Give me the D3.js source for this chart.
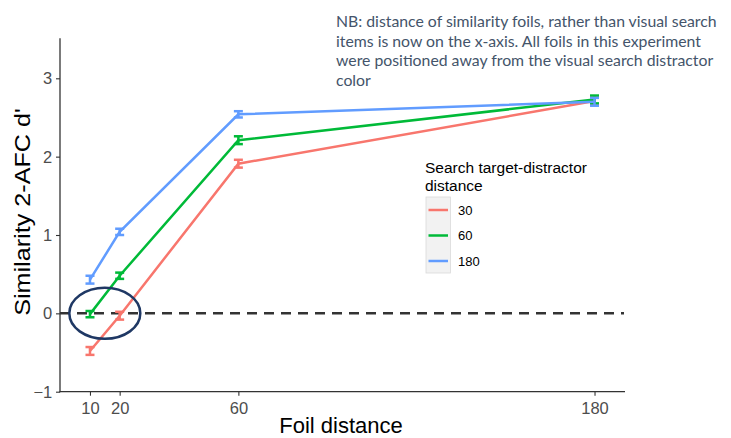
<!DOCTYPE html>
<html><head><meta charset="utf-8">
<script src="https://cdn.jsdelivr.net/npm/d3@7"></script>
<style>body{margin:0;background:#fff}svg{display:block}</style>
</head><body>
<script>
const foilDistances = [10, 20, 60, 180];
const seriesNames = ["30", "60", "180"];
const seriesColors = ["#F8766D", "#00BA38", "#619CFF"];
const values30 = [-0.48, -0.03, 1.91, 2.71];
const values60 = [-0.01, 0.48, 2.21, 2.73];
const values180 = [0.43, 1.04, 2.54, 2.70];
const errors30 = [0.05, 0.05, 0.05, 0.05];
const errors60 = [0.04, 0.04, 0.05, 0.05];
const errors180 = [0.05, 0.04, 0.04, 0.05];
const yTicks = [-1, 0, 1, 2, 3];
const xTicks = [10, 20, 60, 180];
const noteLines = ["NB: distance of similarity foils, rather than visual search",
  "items is now on the x-axis. All foils in this experiment",
  "were positioned away from the visual search distractor",
  "color"];

const W = 731, H = 438;
const svg = d3.select("body").append("svg").attr("width", W).attr("height", H);
const x = d3.scaleLinear().domain([0, 190]).range([60.3, 624.2]);
const y = d3.scaleLinear().domain([-1, 3]).range([391.7, 78.3]);
const yTop = y(3.51);
const FONT = "Liberation Sans, Arial, sans-serif";

// zero dashed line
svg.append("line").attr("x1", 60).attr("x2", 624).attr("y1", y(0)).attr("y2", y(0))
  .attr("stroke", "#333").attr("stroke-width", 2.5).attr("stroke-dasharray", "10,7");

// axes
const xAxis = svg.append("g").attr("transform", `translate(0,${y(-1)})`)
  .call(d3.axisBottom(x).tickValues(xTicks).tickSize(4).tickSizeOuter(0));
const yAxis = svg.append("g").attr("transform", `translate(60,0)`)
  .call(d3.axisLeft(y).tickValues(yTicks).tickSize(4).tickSizeOuter(0).tickFormat(d3.format("d")));
[xAxis, yAxis].forEach(g => {
  g.select(".domain").remove();
  g.selectAll(".tick line").attr("stroke", "#333").attr("stroke-width", 1.1);
  g.selectAll(".tick text").attr("fill", "#4D4D4D").attr("font-family", FONT).attr("font-size", 16.5);
});
xAxis.selectAll(".tick text").attr("dy", "0.95em");
yAxis.selectAll(".tick text").attr("dx", "-0.05em").attr("dy", "0.34em");
svg.append("line").attr("x1", 60).attr("x2", 60).attr("y1", yTop).attr("y2", y(-1) + 0.5).attr("stroke", "#333").attr("stroke-width", 1.3);
svg.append("line").attr("x1", 59.5).attr("x2", 625).attr("y1", y(-1)).attr("y2", y(-1)).attr("stroke", "#333").attr("stroke-width", 1.3);

// series
const allValues = [values30, values60, values180];
const allErrors = [errors30, errors60, errors180];
const line = d3.line().x(d => x(d.fd)).y(d => y(d.v));
allValues.forEach((vals, i) => {
  const data = foilDistances.map((fd, j) => ({fd, v: vals[j], e: allErrors[i][j]}));
  const g = svg.append("g");
  data.forEach(d => {
    const cx = x(d.fd), y1 = y(d.v + d.e), y2 = y(d.v - d.e);
    g.append("line").attr("x1", cx).attr("x2", cx).attr("y1", y1).attr("y2", y2)
      .attr("stroke", seriesColors[i]).attr("stroke-width", 2.5);
    [y1, y2].forEach(yy => g.append("line").attr("x1", cx - 4.5).attr("x2", cx + 4.5).attr("y1", yy).attr("y2", yy)
      .attr("stroke", seriesColors[i]).attr("stroke-width", 2.5));
  });
  g.append("path").datum(data).attr("d", line).attr("fill", "none")
    .attr("stroke", seriesColors[i]).attr("stroke-width", 2.5);
});

// ellipse annotation
svg.append("ellipse").attr("cx", x(15)).attr("cy", y(0)).attr("rx", 35.5).attr("ry", 25.5)
  .attr("fill", "none").attr("stroke", "#1F3864").attr("stroke-width", 2.5);

// axis titles
svg.append("text").attr("x", 341).attr("y", 433).attr("text-anchor", "middle")
  .attr("font-family", FONT).attr("font-size", 22).attr("fill", "#000").text("Foil distance");
svg.append("text").attr("transform", `translate(29.5,212) rotate(-90) scale(1.12,1)`).attr("text-anchor", "middle")
  .attr("font-family", FONT).attr("font-size", 22.5).attr("fill", "#000").text("Similarity 2-AFC d'");

// legend
const lg = svg.append("g").attr("font-family", FONT);
lg.append("text").attr("x", 425).attr("y", 173).attr("font-size", 15.5).attr("fill", "#000").text("Search target-distractor");
lg.append("text").attr("x", 425).attr("y", 191).attr("font-size", 15.5).attr("fill", "#000").text("distance");
lg.append("rect").attr("x", 426).attr("y", 197).attr("width", 24.5).attr("height", 76)
  .attr("fill", "#F2F2F2").attr("stroke", "#DADADA").attr("stroke-width", 0.8);
seriesNames.forEach((s, i) => {
  const ly = 210 + i * 25.5;
  lg.append("line").attr("x1", 428.5).attr("x2", 448).attr("y1", ly).attr("y2", ly)
    .attr("stroke", seriesColors[i]).attr("stroke-width", 2.5);
  lg.append("text").attr("x", 458).attr("y", ly).attr("dy", "0.35em").attr("font-size", 13).attr("fill", "#000").text(s);
});

// note
const nt = svg.append("g").attr("font-family", "Lato, 'Open Sans', sans-serif").attr("font-size", 15.8).attr("fill", "#44546A");
noteLines.forEach((t, i) => nt.append("text").attr("x", 336).attr("y", 27 + i * 19.5).text(t));
</script>
</body></html>
